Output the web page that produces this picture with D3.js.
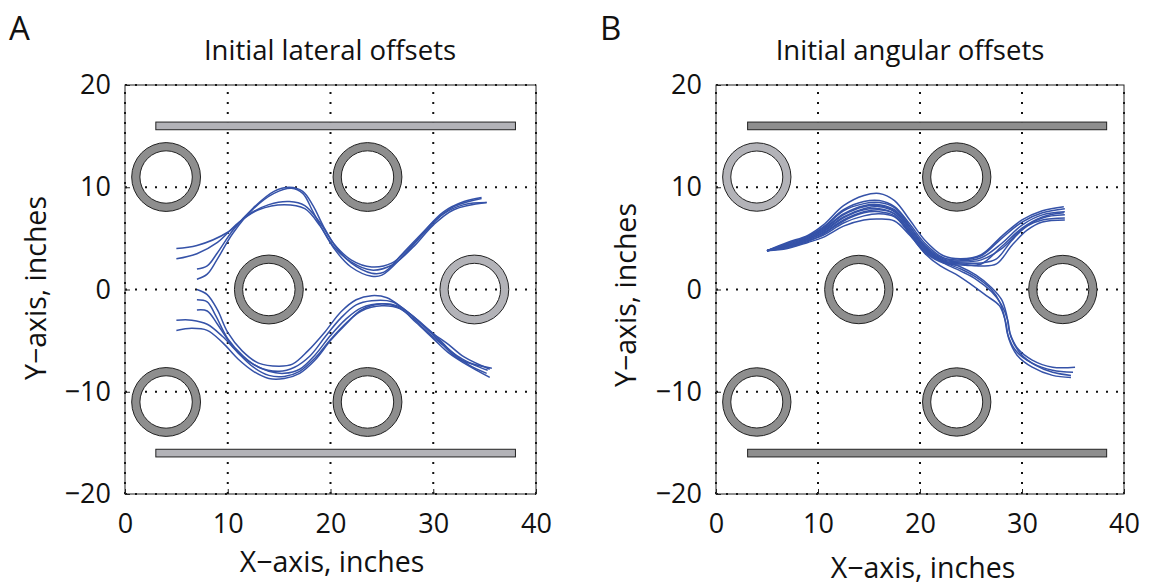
<!DOCTYPE html>
<meta charset="utf-8">
<title>Robot trajectories</title>
<style>
body { margin: 0; background: #fff; }
text { font-family: "Open Sans", "Noto Sans", sans-serif; fill: #111; }
.grid line { stroke: #111; stroke-width: 2; stroke-dasharray: 2,8; }
.traj { fill: none; stroke: #3552a8; stroke-width: 1.5; }
</style>
<body>
<script src="https://d3js.org/d3.v7.min.js"></script>
<script>

// axis ticks
var xTicks = [0, 10, 20, 30, 40];
var yTicks = [-20, -10, 0, 10, 20];

// obstacles (pillars): centre x, centre y, light=true for the pale one
var pillarsA = [[4, 11, false], [23.6, 11, false], [14, 0, false], [34, 0, true], [4, -11, false], [23.6, -11, false]];
var pillarsB = [[4, 11, true], [23.6, 11, false], [14, 0, false], [34, 0, false], [4, -11, false], [23.6, -11, false]];
var pillarOuter = 3.35, pillarInner = 2.55;

// walls: x start, x end, y centre
var wallsA = [[3, 38, 16], [3, 38, -16]];
var wallsB = [[3.1, 38.3, 16], [3.1, 38.3, -16]];
var wallThick = 0.75;

// panel A: initial lateral offsets
var lateralTraj = [
  [[5,4.0],[7,4.3],[10,5.6],[12,7.3],[14,8.3],[16,8.6],[17.5,8.2],[19,6.5],[20.3,4.5],[22,2.9],[24,2.2],[26,2.6],[28,4.4],[30,6.6],[32,8.1],[34.7,8.9]],
  [[5,3.0],[7,3.5],[9,4.6],[11,6.5],[13,7.8],[15.5,8.3],[17.5,7.9],[19,6.2],[20.3,4.2],[22,2.7],[24,1.9],[26,2.4],[28,4.1],[30,6.3],[32,7.8],[35.2,8.5]],
  [[7,2.0],[8,2.3],[9,3.6],[10.5,5.8],[12.5,8.0],[14.5,9.6],[16,10.0],[17.3,9.6],[18.3,8.2],[19.3,6.2],[20.5,4.2],[22,2.6],[24,1.6],[25.2,1.7],[27,3.5],[29,5.6],[31,7.6],[33,8.6],[34.7,9.0]],
  [[7,1.0],[8,1.5],[9,3.0],[10.5,5.5],[12.5,7.9],[14.5,9.4],[16.2,9.9],[17.3,9.4],[18.2,7.8],[19.2,5.9],[20.5,3.8],[22,2.2],[24,1.3],[25,1.4],[27,3.2],[29,5.4],[31,7.4],[33,8.3],[35.2,8.5]],
  [[7,0],[8,-0.5],[9,-2.0],[10,-4.2],[11.4,-6.0],[13,-7.2],[15,-7.5],[16.3,-7.3],[17.8,-6.0],[19.5,-4.1],[21,-2.2],[22.5,-1.0],[24,-0.6],[25.5,-0.8],[27,-1.8],[28.5,-3.0],[30,-4.3],[31.5,-5.4],[33,-6.6],[35.5,-7.8]],
  [[7,-1.0],[8,-1.2],[8.8,-2.5],[10,-4.8],[11.5,-6.5],[13,-7.6],[15,-8.0],[16.5,-7.6],[18,-6.5],[19.5,-4.6],[21,-2.8],[22.5,-1.5],[24,-1.1],[26,-1.2],[27.5,-2.2],[29,-3.5],[30.5,-4.8],[32,-6.3],[33.5,-7.4],[35.2,-8.2]],
  [[7,-2.0],[8,-2.1],[9,-3.4],[10.5,-5.6],[12,-7.0],[14,-8.0],[15.5,-8.2],[17,-7.8],[18.5,-6.4],[20,-4.5],[21.5,-2.9],[23,-1.8],[25,-1.4],[26.5,-1.7],[28,-2.8],[29.5,-4.2],[31,-5.5],[32.5,-6.8],[35.7,-7.7]],
  [[5,-3.0],[6.5,-3.0],[8,-3.4],[9.5,-4.6],[11,-6.2],[12.5,-7.6],[14,-8.4],[15.5,-8.5],[17,-8.0],[18.5,-6.7],[20,-4.9],[21.5,-3.3],[23,-2.1],[25,-1.6],[26.8,-1.9],[28.3,-3.2],[30,-4.8],[31.5,-6.2],[33,-7.2],[35.5,-8.6]],
  [[5,-4.0],[6.5,-3.8],[8,-4.0],[9.5,-5.2],[11,-6.8],[12.5,-8.0],[14,-8.7],[15.5,-8.7],[17,-8.2],[18.5,-6.9],[20,-5.0],[21.5,-3.4],[23,-2.0],[25,-1.4],[26.5,-1.6],[28,-2.6],[29.5,-4.0],[31,-5.4],[32.5,-6.6],[34,-7.4],[35.3,-7.9]]
];

// panel B: initial angular offsets
var angularTraj = [
  [[5,3.8],[7,4.6],[9,5.3],[10.5,6.3],[12.5,8.2],[14.5,9.2],[16,9.4],[17.5,8.7],[19,6.8],[20.5,4.8],[22.3,3.3],[24,3.0],[26,3.4],[28,5.2],[30,6.8],[32,7.7],[34.1,8.1]],
  [[5,3.8],[7,4.5],[9,5.2],[10.5,6.1],[12.5,7.8],[14.5,8.6],[16,8.7],[17.5,8.1],[19,6.4],[20.5,4.5],[22.3,3.1],[24,2.9],[26,3.3],[28,5.0],[30,6.6],[32,7.5],[34.2,7.9]],
  [[5,3.8],[7,4.4],[9,5.1],[10.5,5.9],[12.5,7.4],[14.5,8.2],[16,8.3],[17.5,7.8],[19,6.1],[20.5,4.3],[22.3,3.0],[24,2.8],[26,3.1],[28,4.5],[30,6.3],[32,7.3],[34.2,7.6]],
  [[5,3.8],[7,4.3],[9,5.0],[10.5,5.7],[12.5,7.1],[14.5,7.9],[16,8.1],[17.5,7.6],[19,5.9],[20.5,4.1],[22.3,2.9],[24,2.7],[26,2.9],[28,4.0],[30,5.9],[32,7.0],[34.2,7.3]],
  [[5,3.8],[7,4.2],[9,4.9],[10.5,5.5],[12.5,6.8],[14.5,7.6],[16,7.8],[17.5,7.4],[19,5.7],[20.5,3.9],[22.3,2.8],[24,2.6],[26,2.6],[27.5,3.0],[29,4.8],[30.5,6.2],[32,6.8],[34.2,7.0]],
  [[5,3.8],[7,4.1],[9,4.8],[10.5,5.3],[12.5,6.5],[14.5,7.2],[16,7.4],[17.5,7.1],[19,5.5],[20.5,3.7],[22.3,2.7],[24,2.5],[26,2.3],[27.5,2.5],[29,4.3],[30.5,5.8],[32,6.6],[34.2,6.8]],
  [[5,3.8],[7,4.0],[9,4.6],[10.5,5.1],[12.5,6.2],[14.5,6.8],[16,6.9],[17.5,6.7],[19,5.3],[20.5,3.6],[22.3,2.6],[24,2.4],[26,2.5],[28,4.2],[30,6.0],[32,7.1],[34.1,7.5]],
  [[5,3.8],[7,4.5],[9,5.2],[10.5,6.0],[12.5,7.7],[14.5,8.4],[16,8.5],[17.5,8.0],[19,6.2],[20.5,4.2],[22.3,2.8],[24,2.2],[25.5,1.4],[27,0.2],[28,-1.0],[28.5,-2.5],[28.8,-4.2],[29.6,-5.8],[31,-6.9],[33,-7.6],[35.2,-7.6]],
  [[5,3.8],[7,4.3],[9,5.0],[10.5,5.8],[12.5,7.3],[14.5,8.1],[16,8.2],[17.5,7.7],[19,5.9],[20.5,4.0],[22.3,2.7],[24,2.0],[25.5,1.2],[27,0.0],[27.8,-1.2],[28.3,-2.8],[28.6,-4.4],[29.4,-6.0],[31,-7.2],[33,-7.9],[35,-8.1]],
  [[5,3.8],[7,4.2],[9,4.9],[10.5,5.6],[12.5,7.0],[14.5,7.8],[16,7.9],[17.5,7.4],[19,5.6],[20.5,3.8],[22.3,2.6],[24,1.8],[25.5,1.0],[27,-0.2],[28,-1.5],[28.6,-3.0],[28.9,-4.6],[29.8,-6.2],[31.3,-7.4],[33,-8.1],[34.8,-8.4]],
  [[5,3.8],[7,4.1],[9,4.7],[10.5,5.4],[12.5,6.7],[14.5,7.5],[16,7.6],[17.5,7.2],[19,5.4],[20.5,3.5],[22,2.3],[23.5,1.5],[25,0.5],[26.5,-0.6],[27.8,-1.6],[28.4,-3.2],[28.7,-4.8],[29.5,-6.4],[31,-7.6],[33,-8.4],[34.8,-8.6]]
];

var darkFill = "#8e8e8e", lightFill = "#b3b3b8";

var svg = d3.select("body").append("svg")
    .attr("width", 1153)
    .attr("height", 587);

function drawPanel(p) {
  var x = d3.scaleLinear().domain([0, 40]).range([p.left, p.left + p.width]);
  var y = d3.scaleLinear().domain([-20, 20]).range([p.top + p.height, p.top]);
  var g = svg.append("g");

  // grid
  var grid = g.append("g").attr("class", "grid");
  grid.selectAll(".gx").data(xTicks).enter().append("line")
      .attr("x1", function(d) { return x(d); }).attr("x2", function(d) { return x(d); })
      .attr("y1", y(-20)).attr("y2", y(20));
  grid.selectAll(".gy").data(yTicks).enter().append("line")
      .attr("y1", function(d) { return y(d); }).attr("y2", function(d) { return y(d); })
      .attr("x1", x(0)).attr("x2", x(40));

  // box
  g.append("rect")
      .attr("x", x(0)).attr("y", y(20))
      .attr("width", x(40) - x(0)).attr("height", y(-20) - y(20))
      .attr("fill", "none").attr("stroke", "#222").attr("stroke-width", 1);

  // axes (tick labels only, inward ticks)
  var ax = g.append("g").attr("transform", "translate(0," + y(-20) + ")")
      .call(d3.axisBottom(x).tickValues(xTicks).tickSizeInner(-5).tickSizeOuter(0).tickPadding(13));
  var ay = g.append("g").attr("transform", "translate(" + x(0) + ",0)")
      .call(d3.axisLeft(y).tickValues(yTicks).tickSizeInner(-5).tickSizeOuter(0).tickPadding(14)
        .tickFormat(function(d) { return d < 0 ? "\u2212" + Math.abs(d) : d; }));
  [ax, ay].forEach(function(a) {
    a.select(".domain").remove();
    a.selectAll("line").attr("stroke", "#222");
    a.selectAll("text").style("font-size", "27px").attr("fill", "#111");
  });
  ax.selectAll("text").attr("dy", "0.95em");

  // walls
  g.selectAll(".wall").data(p.walls).enter().append("rect")
      .attr("x", function(d) { return x(d[0]); })
      .attr("width", function(d) { return x(d[1]) - x(d[0]); })
      .attr("y", function(d) { return y(d[2] + wallThick / 2); })
      .attr("height", y(0) - y(wallThick))
      .attr("fill", p.wallFill).attr("stroke", "#222").attr("stroke-width", 1);

  // pillars as rings
  var ro = x(pillarOuter) - x(0), ri = x(pillarInner) - x(0);
  g.selectAll(".pillar").data(p.pillars).enter().append("path")
      .attr("d", function(d) {
        var cx = x(d[0]), cy = y(d[1]);
        var pth = d3.path();
        pth.moveTo(cx + ro, cy); pth.arc(cx, cy, ro, 0, 2 * Math.PI);
        pth.moveTo(cx + ri, cy); pth.arc(cx, cy, ri, 0, 2 * Math.PI);
        return pth.toString();
      })
      .attr("fill-rule", "evenodd")
      .attr("fill", function(d) { return d[2] ? lightFill : darkFill; })
      .attr("stroke", "#222").attr("stroke-width", 1);

  // trajectories
  var line = d3.line()
      .x(function(d) { return x(d[0]); })
      .y(function(d) { return y(d[1]); })
      .curve(d3.curveCatmullRom.alpha(0.5));
  g.selectAll(".traj").data(p.traj).enter().append("path")
      .attr("class", "traj")
      .attr("d", line);

  // labels
  svg.append("text").attr("x", p.letterX).attr("y", 40).style("font-size", "33px").text(p.letter);
  svg.append("text").attr("x", p.titleX).attr("y", 60).attr("text-anchor", "middle")
      .style("font-size", "27.5px").text(p.title);
  svg.append("text").attr("x", p.xLabX).attr("y", p.xLabY).attr("text-anchor", "middle")
      .style("font-size", "28.5px").text("X\u2212axis, inches");
  svg.append("text").attr("text-anchor", "middle")
      .attr("transform", "translate(" + p.yLabX + "," + p.yLabY + ") rotate(-90)")
      .style("font-size", "28.5px").text("Y\u2212axis, inches");
}

drawPanel({left: 125, top: 85, width: 411, height: 409, pillars: pillarsA, walls: wallsA,
  wallFill: lightFill, traj: lateralTraj, letter: "A", letterX: 9, title: "Initial lateral offsets",
  titleX: 330, xLabX: 332, xLabY: 572, yLabX: 46, yLabY: 288});
drawPanel({left: 716, top: 85, width: 408, height: 409, pillars: pillarsB, walls: wallsB,
  wallFill: darkFill, traj: angularTraj, letter: "B", letterX: 600, title: "Initial angular offsets",
  titleX: 910, xLabX: 923, xLabY: 578, yLabX: 636, yLabY: 295});

</script>
</body>
